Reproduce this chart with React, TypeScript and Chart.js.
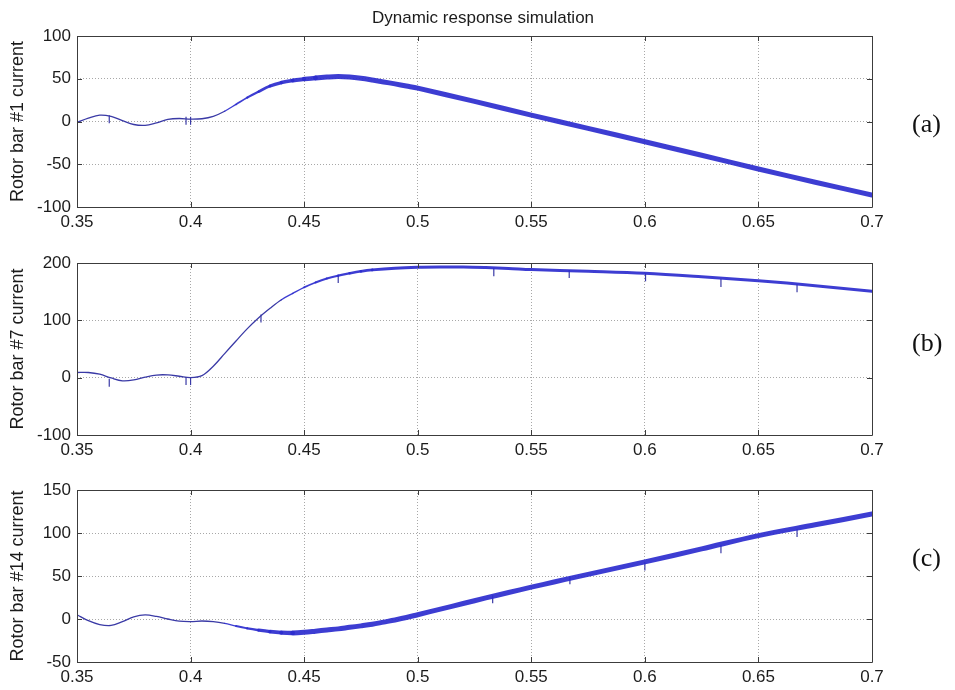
import { useEffect, useRef } from "react";
import { Chart, registerables } from "chart.js";

Chart.register(...registerables);

// ---------- data ----------
const X_TICKS = [0.35, 0.4, 0.45, 0.5, 0.55, 0.6, 0.65, 0.7];
const X_TICK_LABELS = ["0.35", "0.4", "0.45", "0.5", "0.55", "0.6", "0.65", "0.7"];

const Y_TICKS_A = [-100, -50, 0, 50, 100];
const Y_TICKS_B = [-100, 0, 100, 200];
const Y_TICKS_C = [-50, 0, 50, 100, 150];

const TIME_A = [0.35, 0.355, 0.36, 0.365, 0.37, 0.375, 0.38, 0.385, 0.39, 0.395, 0.4, 0.405, 0.41, 0.415, 0.42, 0.425, 0.43, 0.435, 0.44, 0.445, 0.45, 0.455, 0.46, 0.465, 0.47, 0.475, 0.48, 0.485, 0.49, 0.495, 0.5, 0.525, 0.55, 0.575, 0.6, 0.625, 0.65, 0.675, 0.7];
const CURRENT_A = [-1, 4, 7.5, 6, 1, -3.5, -4.5, -1.5, 2.5, 3.5, 2.7, 3.2, 6, 12, 20, 28, 35, 41.5, 45.5, 48, 49.6, 51, 52, 52.6, 52, 50.5, 48.5, 46.3, 44, 41.5, 39, 23.5, 7.5, -8, -23.7, -39.5, -55.5, -71, -86];
const SPIKE_TIME_A = [0.3642, 0.398, 0.4];
const SPIKE_VALUE_A = [2.7, 0.8, 0.8];

const TIME_B = [0.35, 0.355, 0.36, 0.365, 0.37, 0.375, 0.38, 0.385, 0.39, 0.395, 0.4, 0.405, 0.41, 0.415, 0.42, 0.425, 0.43, 0.435, 0.44, 0.445, 0.45, 0.455, 0.46, 0.465, 0.47, 0.475, 0.48, 0.49, 0.5, 0.51, 0.52, 0.53, 0.54, 0.55, 0.575, 0.6, 0.625, 0.65, 0.675, 0.7];
const CURRENT_B = [9, 9, 6, -0.5, -5.5, -4, 1, 4.6, 4.8, 2.5, 0, 3.5, 20, 42, 64, 85.5, 104.5, 121, 136, 147, 157.5, 166, 173, 178, 182, 185.5, 188, 191, 192.5, 193, 193, 192, 190.5, 188.5, 185.5, 182, 176, 169, 160.5, 150.5];
const SPIKE_TIME_B = [0.3642, 0.398, 0.4, 0.431, 0.465, 0.5335, 0.5667, 0.6003, 0.6335, 0.667];
const SPIKE_VALUE_B = [-9, -6, -6, 103, 172, 184, 181, 175, 165, 156];

const TIME_C = [0.35, 0.355, 0.36, 0.365, 0.37, 0.375, 0.38, 0.385, 0.39, 0.395, 0.4, 0.405, 0.41, 0.415, 0.42, 0.425, 0.43, 0.435, 0.44, 0.445, 0.45, 0.455, 0.46, 0.465, 0.47, 0.475, 0.48, 0.485, 0.49, 0.495, 0.5, 0.51, 0.52, 0.53, 0.54, 0.55, 0.56, 0.57, 0.58, 0.59, 0.6, 0.625, 0.65, 0.675, 0.7];
const CURRENT_C = [5, -2, -6.5, -7.5, -3, 2.5, 4.7, 3, 0, -2.5, -3, -2.3, -3, -5, -8.2, -10.9, -13, -14.7, -15.8, -16.2, -15.5, -14.2, -12.8, -11.5, -9.7, -8, -6.1, -3.6, -1.1, 1.7, 5, 11.5, 18, 24.5, 30.8, 37, 43, 49, 54.8, 60.6, 66.4, 81.5, 97, 109.5, 122];
const SPIKE_TIME_C = [0.533, 0.567, 0.6, 0.6335, 0.667];
const SPIKE_VALUE_C = [23, 45, 61, 81, 100];

// ---------- styles ----------
const SANS = "'Liberation Sans', Arial, Helvetica, sans-serif";
const THIN_COLOR = "#3a3aa6";
const BAND_COLOR = "rgba(44,44,206,0.92)";
const GRID_COLOR = "#a8a8a8";
const BOX_COLOR = "#3c3c3c";
const TEXT_COLOR = "#1c1c1c";

type PanelCfg = {
  top: number;
  height: number;
  padTop: number;
  padBottom: number;
  yMin: number;
  yMax: number;
  yTicks: number[];
  yLabel: string;
  time: number[];
  values: number[];
  spikeTime: number[];
  spikeValue: number[];
  bandStart: number;
  bandFull: number;
  bandWidth: number;
};

const X_AXIS_H = 26;

const PANELS: PanelCfg[] = [
  { top: 0, height: 233, padTop: 36, padBottom: 0, yMin: -100, yMax: 100, yTicks: Y_TICKS_A, yLabel: "Rotor bar #1 current", time: TIME_A, values: CURRENT_A, spikeTime: SPIKE_TIME_A, spikeValue: SPIKE_VALUE_A, bandStart: 0.415, bandFull: 0.455, bandWidth: 5 },
  { top: 233, height: 228, padTop: 30, padBottom: 0, yMin: -100, yMax: 200, yTicks: Y_TICKS_B, yLabel: "Rotor bar #7 current", time: TIME_B, values: CURRENT_B, spikeTime: SPIKE_TIME_B, spikeValue: SPIKE_VALUE_B, bandStart: 0.44, bandFull: 0.48, bandWidth: 3 },
  { top: 461, height: 229, padTop: 29, padBottom: 2, yMin: -50, yMax: 150, yTicks: Y_TICKS_C, yLabel: "Rotor bar #14 current", time: TIME_C, values: CURRENT_C, spikeTime: SPIKE_TIME_C, spikeValue: SPIKE_VALUE_C, bandStart: 0.415, bandFull: 0.445, bandWidth: 5 },
];

const boxPlugin = {
  id: "matlabBox",
  afterDatasetsDraw(chart: any) {
    const { ctx, chartArea } = chart;
    const { left, right, top, bottom } = chartArea;
    const xs = chart.scales.x;
    const ys = chart.scales.y;
    const tl = 5;
    ctx.save();
    ctx.strokeStyle = BOX_COLOR;
    ctx.lineWidth = 1;
    ctx.beginPath();
    ctx.rect(Math.round(left) + 0.5, Math.round(top) + 0.5, Math.round(right - left), Math.round(bottom - top));
    ctx.stroke();
    ctx.beginPath();
    xs.ticks.forEach((t: any) => {
      const px = Math.round(xs.getPixelForValue(t.value)) + 0.5;
      ctx.moveTo(px, bottom);
      ctx.lineTo(px, bottom - tl);
      ctx.moveTo(px, top);
      ctx.lineTo(px, top + tl);
    });
    ys.ticks.forEach((t: any) => {
      const py = Math.round(ys.getPixelForValue(t.value)) + 0.5;
      ctx.moveTo(left, py);
      ctx.lineTo(left + tl, py);
      ctx.moveTo(right, py);
      ctx.lineTo(right - tl, py);
    });
    ctx.stroke();
    ctx.restore();
  },
};

function Panel({ cfg }: { cfg: PanelCfg }) {
  const ref = useRef<HTMLCanvasElement | null>(null);
  useEffect(() => {
    if (!ref.current) return;
    const widthAt = (x: number) => {
      if (x < cfg.bandStart) return 1.3;
      if (x >= cfg.bandFull) return cfg.bandWidth;
      return 1.3 + ((x - cfg.bandStart) / (cfg.bandFull - cfg.bandStart)) * (cfg.bandWidth - 1.3);
    };
    const chart = new Chart(ref.current, {
      type: "line",
      data: {
        datasets: [
          {
            data: cfg.time.map((t, i) => ({ x: t, y: cfg.values[i] })),
            borderColor: THIN_COLOR,
            borderWidth: 1.3,
            pointRadius: 0,
            tension: 0.35,
            borderCapStyle: "round",
            borderJoinStyle: "round",
            segment: {
              borderWidth: (c: any) => widthAt(c.p0.parsed.x),
              borderColor: (c: any) => (c.p0.parsed.x >= cfg.bandStart ? BAND_COLOR : THIN_COLOR),
            },
          } as any,
          {
            data: cfg.spikeTime.map((t, i) => ({ x: t, y: cfg.spikeValue[i] })),
            showLine: false,
            pointStyle: "line",
            rotation: 90,
            pointRadius: 4,
            pointBorderWidth: 1.2,
            pointBorderColor: THIN_COLOR,
            pointBackgroundColor: THIN_COLOR,
          } as any,
        ],
      },
      options: {
        animation: false,
        responsive: false,
        maintainAspectRatio: false,
        events: [],
        layout: { padding: { top: cfg.padTop, right: 83, bottom: cfg.padBottom, left: 0 } },
        plugins: { legend: { display: false }, tooltip: { enabled: false }, title: { display: false } },
        scales: {
          x: {
            type: "linear",
            min: 0.35,
            max: 0.7,
            afterBuildTicks: (s: any) => {
              s.ticks = X_TICKS.map((v) => ({ value: v }));
            },
            afterFit: (s: any) => {
              s.height = X_AXIS_H;
            },
            ticks: {
              autoSkip: false,
              maxRotation: 0,
              padding: 5,
              color: TEXT_COLOR,
              font: { family: SANS, size: 17 },
              callback: (v: any) => X_TICK_LABELS[X_TICKS.indexOf(Number(v))] ?? "",
            },
            grid: { color: GRID_COLOR, lineWidth: 1, drawTicks: false },
            border: { display: false, dash: [1, 2] },
          },
          y: {
            type: "linear",
            min: cfg.yMin,
            max: cfg.yMax,
            afterBuildTicks: (s: any) => {
              s.ticks = cfg.yTicks.map((v) => ({ value: v }));
            },
            afterFit: (s: any) => {
              s.width = 77;
            },
            ticks: {
              padding: 6,
              color: TEXT_COLOR,
              font: { family: SANS, size: 17 },
              callback: (v: any) => String(v),
            },
            title: {
              display: true,
              text: cfg.yLabel,
              color: TEXT_COLOR,
              font: { family: SANS, size: 18 },
              padding: { top: 7, bottom: 0 },
            },
            grid: { color: GRID_COLOR, lineWidth: 1, drawTicks: false },
            border: { display: false, dash: [1, 2] },
          },
        },
      } as any,
      plugins: [boxPlugin],
    });
    return () => chart.destroy();
  }, [cfg]);
  return (
    <canvas
      ref={ref}
      width={955}
      height={cfg.height}
      style={{ position: "absolute", left: 0, top: cfg.top, width: 955, height: cfg.height, display: "block" }}
    />
  );
}

const PANEL_TAGS = ["(a)", "(b)", "(c)"];
const TAG_CENTERS = [126, 345, 560];

export default function App() {
  return (
    <div style={{ position: "absolute", left: 0, top: 0, width: 955, height: 690, background: "#fff", overflow: "hidden" }}>
      {PANELS.map((p, i) => (
        <Panel key={i} cfg={p} />
      ))}
      <div
        style={{
          position: "absolute",
          left: 372,
          width: 200,
          top: 9,
          textAlign: "center",
          fontFamily: SANS,
          fontSize: 17,
          lineHeight: "17px",
          color: TEXT_COLOR,
          whiteSpace: "nowrap",
        }}
      >
        Dynamic response simulation
      </div>
      {PANEL_TAGS.map((t, i) => (
        <div
          key={t}
          style={{
            position: "absolute",
            left: 912,
            top: TAG_CENTERS[i] - 15,
            fontFamily: "'Liberation Serif', 'Times New Roman', serif",
            fontSize: 26,
            lineHeight: "26px",
            color: "#111",
            whiteSpace: "nowrap",
          }}
        >
          {t}
        </div>
      ))}
    </div>
  );
}
